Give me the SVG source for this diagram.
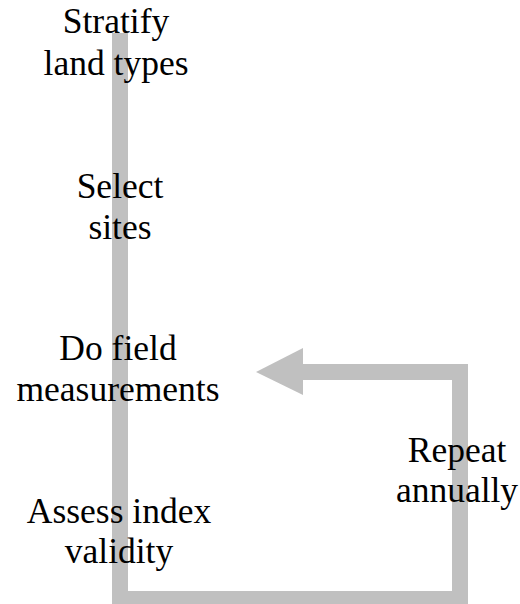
<svg xmlns="http://www.w3.org/2000/svg" width="520" height="604" viewBox="0 0 520 604">
  <style>
    .flow { fill: none; stroke: #c0c0c0; stroke-width: 16; stroke-linejoin: miter; }
    .head { fill: #c0c0c0; }
    .lbl { font-family: "Liberation Serif", "Times New Roman", serif; font-size: 35.5px; fill: #000; text-anchor: middle; }
  </style>
  <g id="connectors">
    <path class="flow" d="M120,33 V599 H460 V372 H300"/>
    <polygon class="head" points="303,348 256,372 303,395"/>
  </g>
  <g id="stratify">
    <text class="lbl" x="116" y="33">Stratify</text>
    <text class="lbl" x="116" y="75">land types</text>
  </g>
  <g id="select">
    <text class="lbl" x="120" y="198">Select</text>
    <text class="lbl" x="120" y="239">sites</text>
  </g>
  <g id="measure">
    <text class="lbl" x="118" y="360">Do field</text>
    <text class="lbl" x="118" y="401">measurements</text>
  </g>
  <g id="assess">
    <text class="lbl" x="119" y="523">Assess index</text>
    <text class="lbl" x="119" y="563">validity</text>
  </g>
  <g id="repeat">
    <text class="lbl" x="457" y="462">Repeat</text>
    <text class="lbl" x="457" y="502">annually</text>
  </g>
</svg>
